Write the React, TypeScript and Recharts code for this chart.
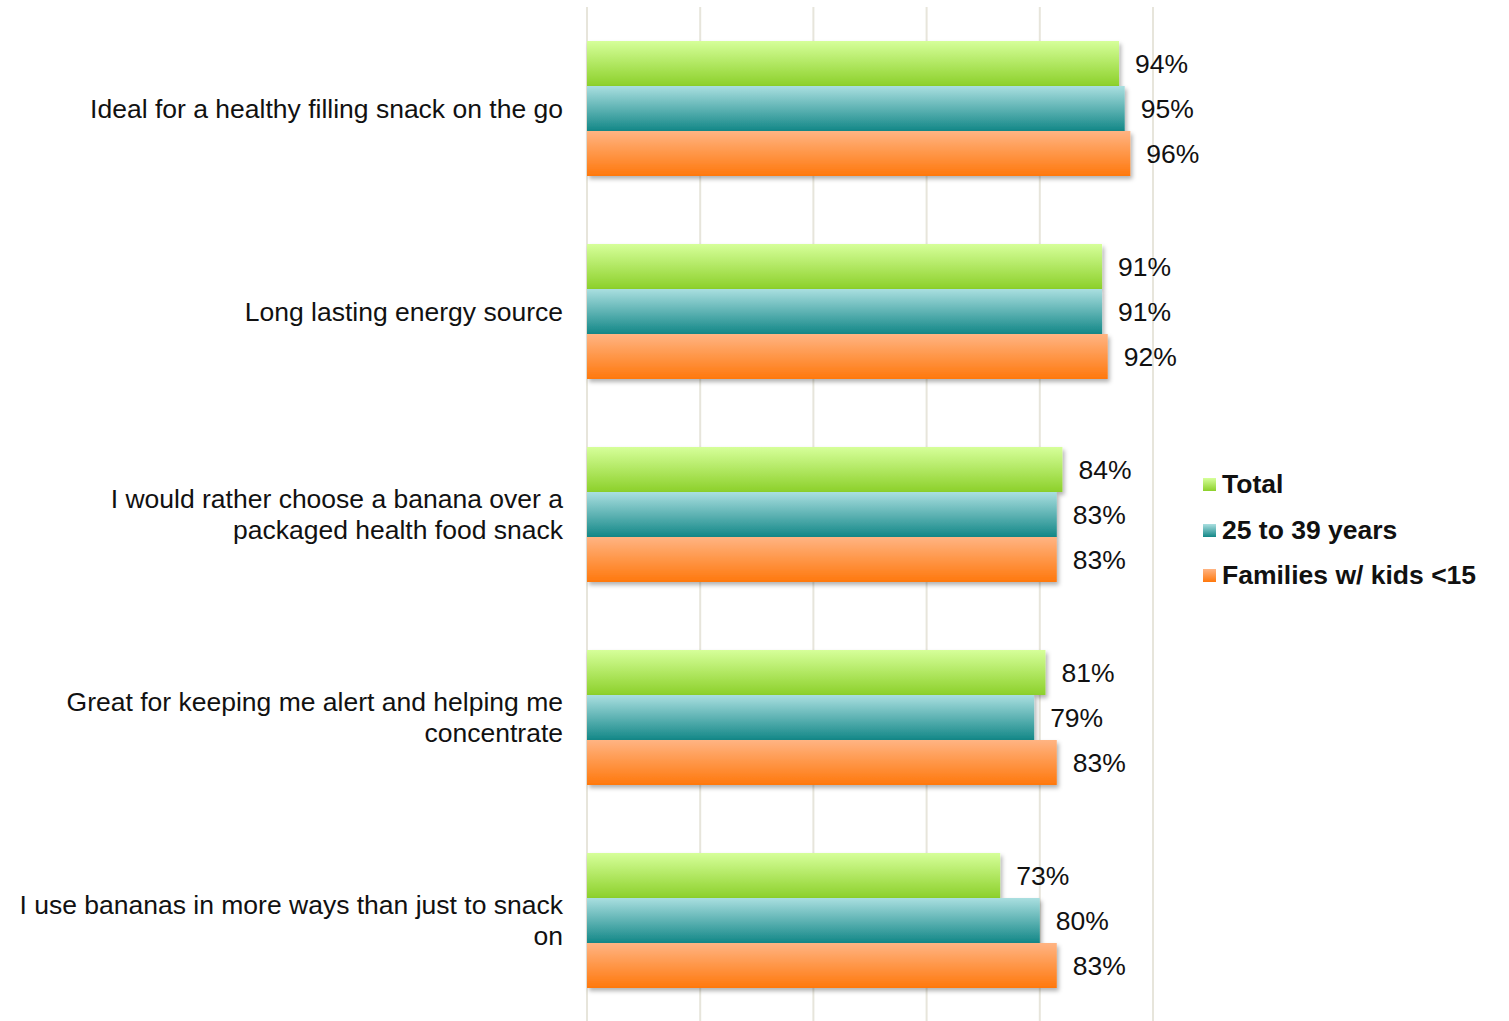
import { BarChart, Bar, XAxis, YAxis, CartesianGrid, LabelList } from 'recharts';

// Statements (each entry is one category, lines split as in the original)
const statements = [
  ['Ideal for a healthy filling snack on the go'],
  ['Long lasting energy source'],
  ['I would rather choose a banana over a', 'packaged health food snack'],
  ['Great for keeping me alert and helping me', 'concentrate'],
  ['I use bananas in more ways than just to snack', 'on'],
];

const total = [94, 91, 84, 81, 73];
const age25to39 = [95, 91, 83, 79, 80];
const families = [96, 92, 83, 83, 83];

const seriesNames = ['Total', '25 to 39 years', 'Families w/ kids <15'];
const xTicks = [0, 20, 40, 60, 80, 100];

const GRADS = [
  { id: 'gTotal', top: '#d6ff9a', bottom: '#8cd02a' },
  { id: 'gAge', top: '#aadfe0', bottom: '#138787' },
  { id: 'gFam', top: '#ffb483', bottom: '#ff780c' },
];

const data = statements.map((lines, i) => ({
  label: lines.join(' '),
  total: total[i],
  age: age25to39[i],
  fam: families[i],
}));

const FONT = '"Liberation Sans", Arial, sans-serif';
const FS = 26.5;

const StatementTick = ({ x, y, payload }: any) => {
  const idx = data.findIndex((d) => d.label === payload.value);
  const lines = statements[idx] || [payload.value];
  const lh = 31;
  const start = y - ((lines.length - 1) * lh) / 2;
  return (
    <text x={x - 16} y={start} textAnchor="end" fontSize={FS} fill="#111" fontFamily={FONT} dominantBaseline="central">
      {lines.map((l, i) => (
        <tspan key={i} x={x - 16} dy={i === 0 ? 0 : lh}>
          {l}
        </tspan>
      ))}
    </text>
  );
};

const LegendBox = () => (
  <div
    style={{
      position: 'absolute',
      left: 1203,
      top: 462,
      fontFamily: FONT,
      fontWeight: 'bold',
      fontSize: FS,
      color: '#111',
    }}
  >
    {seriesNames.map((name, i) => (
      <div key={name} style={{ display: 'flex', alignItems: 'center', height: 45.5, whiteSpace: 'nowrap' }}>
        <div
          style={{
            width: 13,
            height: 13,
            marginRight: 6,
            background: `linear-gradient(${GRADS[i].top}, ${GRADS[i].bottom})`,
          }}
        />
        <span>{name}</span>
      </div>
    ))}
  </div>
);

const pct = (v: any) => `${v}%`;

export default function App() {
  return (
    <div style={{ position: 'absolute', left: 0, top: 0, width: 1509, height: 1021, overflow: 'hidden', background: '#fff' }}>
      <BarChart
        width={1509}
        height={1022}
        data={data}
        layout="vertical"
        margin={{ top: 7, right: 356, bottom: 0, left: 0 }}
        barGap={0}
        barSize={45}
      >
        <defs>
          {GRADS.map((g) => (
            <linearGradient key={g.id} id={g.id} x1="0" y1="0" x2="0" y2="1">
              <stop offset="0%" stopColor={g.top} />
              <stop offset="100%" stopColor={g.bottom} />
            </linearGradient>
          ))}
          <filter id="barShadow" x="-5%" y="-20%" width="110%" height="160%">
            <feDropShadow dx="2" dy="3" stdDeviation="2" floodColor="#000" floodOpacity="0.3" />
          </filter>
        </defs>
        <CartesianGrid horizontal={false} stroke="#e7e5db" strokeWidth={2} />
        <XAxis type="number" domain={[0, 100]} ticks={xTicks} hide />
        <YAxis
          type="category"
          dataKey="label"
          width={587}
          axisLine={false}
          tickLine={false}
          tickSize={0}
          tickMargin={8}
          tick={<StatementTick />}
          interval={0}
        />
        <Bar dataKey="total" name={seriesNames[0]} fill="url(#gTotal)" filter="url(#barShadow)" isAnimationActive={false}>
          <LabelList dataKey="total" position="right" offset={16} fontSize={FS} fill="#111" fontFamily={FONT} formatter={pct} />
        </Bar>
        <Bar dataKey="age" name={seriesNames[1]} fill="url(#gAge)" filter="url(#barShadow)" isAnimationActive={false}>
          <LabelList dataKey="age" position="right" offset={16} fontSize={FS} fill="#111" fontFamily={FONT} formatter={pct} />
        </Bar>
        <Bar dataKey="fam" name={seriesNames[2]} fill="url(#gFam)" filter="url(#barShadow)" isAnimationActive={false}>
          <LabelList dataKey="fam" position="right" offset={16} fontSize={FS} fill="#111" fontFamily={FONT} formatter={pct} />
        </Bar>
      </BarChart>
      <LegendBox />
    </div>
  );
}
